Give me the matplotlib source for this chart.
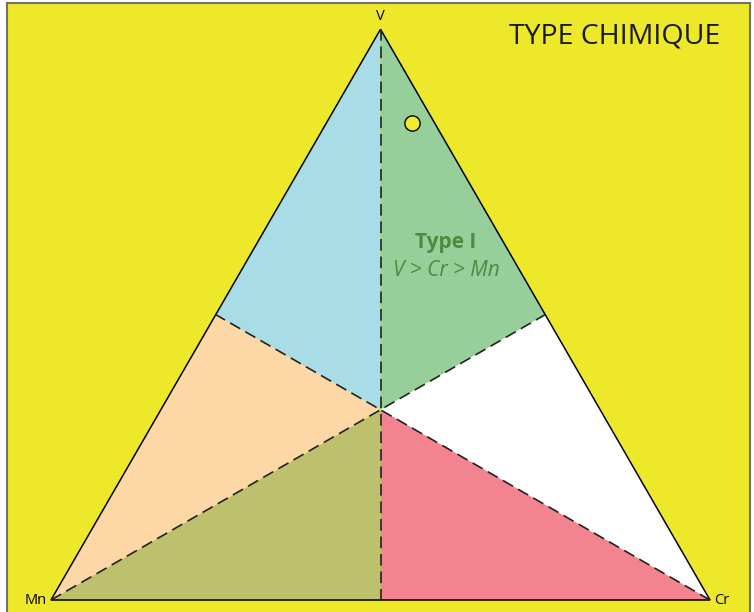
import matplotlib.pyplot as plt
import numpy as np
from matplotlib.patches import Polygon, Rectangle

# ternary corners (V, Cr, Mn fractions)
corners = {"V": (1, 0, 0), "Cr": (0, 1, 0), "Mn": (0, 0, 1)}
# six fields: (corner, neighbour corner) -> colour
fields = [("V", "Mn", "#a8dce6"), ("V", "Cr", "#97cf9a"),
          ("Cr", "V", "#ffffff"), ("Cr", "Mn", "#f2838f"),
          ("Mn", "Cr", "#bdc16e"), ("Mn", "V", "#fdd7a6")]
# sample point (V, Cr, Mn)
sample = (0.835, 0.13, 0.035)


def tern(v, cr, mn):
    s = v + cr + mn
    v, cr = v / s, cr / s
    return cr + 0.5 * v, v * np.sqrt(3) / 2


def mid(a, b):
    return tuple((p + q) / 2 for p, q in zip(corners[a], corners[b]))


centre = (1 / 3, 1 / 3, 1 / 3)
yellow = "#eee82a"

fig = plt.figure(figsize=(7.54, 6.12), dpi=100)
fig.patch.set_facecolor("white")
ax = fig.add_axes([0, 0, 1, 1])
sc = 659.0
ax.set_xlim(-51 / sc, (754 - 51) / sc)
ax.set_ylim(-12 / sc, 600 / sc)
ax.axis("off")

# frame
ax.add_patch(Rectangle((-44 / sc, -20 / sc), 743 / sc, 617 / sc,
                       facecolor=yellow, edgecolor="#707070", lw=1.5))

for a, b, c in fields:
    pts = [tern(*corners[a]), tern(*mid(a, b)), tern(*centre)]
    ax.add_patch(Polygon(pts, closed=True, facecolor=c, edgecolor="none"))

# medians
for k, (a, b) in {"V": ("Cr", "Mn"), "Cr": ("V", "Mn"), "Mn": ("V", "Cr")}.items():
    p0 = tern(*corners[k])
    p1 = tern(*mid(a, b))
    ax.plot([p0[0], p1[0]], [p0[1], p1[1]], color="#222222", lw=1.2,
            dashes=(7, 3.5))

tri = [tern(*corners[k]) for k in ("V", "Cr", "Mn")]
ax.add_patch(Polygon(tri, closed=True, facecolor="none", edgecolor="black", lw=1.1))

sx, sy = tern(*sample)
ax.plot(sx, sy, "o", ms=11, mfc="#f2ea2a", mec="black", mew=1.0)

fnt = "Open Sans"
vx, vy = tern(*corners["V"])
ax.text(vx, vy + 13 / sc, "V", ha="center", va="center", fontsize=10.5, family=fnt)
mx, my = tern(*corners["Mn"])
ax.text(mx - 4 / sc, my, "Mn", ha="right", va="center", fontsize=10.5, family=fnt)
cx, cy = tern(*corners["Cr"])
ax.text(cx + 4 / sc, cy, "Cr", ha="left", va="center", fontsize=10.5, family=fnt)

ax.text((720 - 51) / sc, (600 - 37) / sc, "TYPE CHIMIQUE", ha="right", va="center",
        fontsize=20.5, family=fnt, color="#1a1a1a")

ax.text((446 - 51) / sc, (600 - 242) / sc, "Type I", ha="center", va="center",
        fontsize=15, fontweight="bold", family=fnt, color="#4e8a3f")
ax.text((446 - 51) / sc, (600 - 270) / sc, "V > Cr > Mn", ha="center", va="center",
        fontsize=15, style="italic", family=fnt, color="#4e8a3f")

fig.savefig("out.png", dpi=100)
